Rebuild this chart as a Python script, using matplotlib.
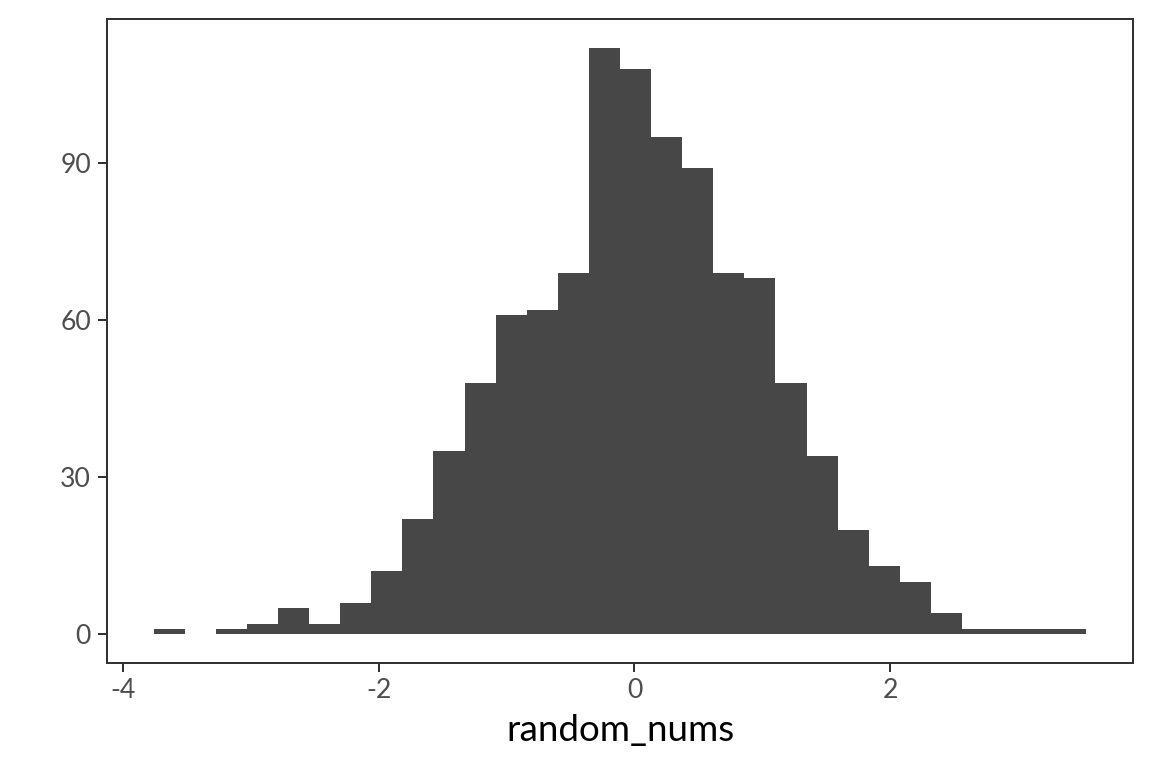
import numpy as np
import matplotlib.pyplot as plt

plt.rcParams['font.family'] = ['Lato', 'DejaVu Sans']
plt.rcParams['axes.unicode_minus'] = False

# histogram of random_nums, 30 bins
bin_start = -3.758
bin_width = 0.243
counts = [1, 0, 1, 2, 5, 2, 6, 12, 22, 35, 48, 61, 62, 69, 112,
          108, 95, 89, 69, 68, 48, 34, 20, 13, 10, 4, 1, 1, 1, 1]
x_ticks = [-4, -2, 0, 2]
y_ticks = [0, 30, 60, 90]

edges = bin_start + bin_width * np.arange(len(counts) + 1)

fig = plt.figure(figsize=(6, 4), dpi=192)
ax = fig.add_axes([107 / 1152, 1 - 662.5 / 768, (1133 - 107) / 1152, (662.5 - 19.3) / 768])

ax.bar(edges[:-1], counts, width=bin_width, align='edge', color='#474747',
       linewidth=0)

# ggplot-like expansion
xr = edges[-1] - edges[0]
ax.set_xlim(edges[0] - 0.05 * xr, edges[-1] + 0.05 * xr)
ax.set_ylim(-5.4, 117.5)

ax.set_xticks(x_ticks)
ax.set_yticks(y_ticks)
ax.tick_params(length=3.5, width=0.75, color='#333333', labelcolor='#4D4D4D',
               labelsize=10, pad=2.5)
for s in ax.spines.values():
    s.set_color('#333333')
    s.set_linewidth(0.75)

ax.set_xlabel('random_nums', fontsize=13.8, color='black', labelpad=4)

fig.savefig('out.png', dpi=192)
